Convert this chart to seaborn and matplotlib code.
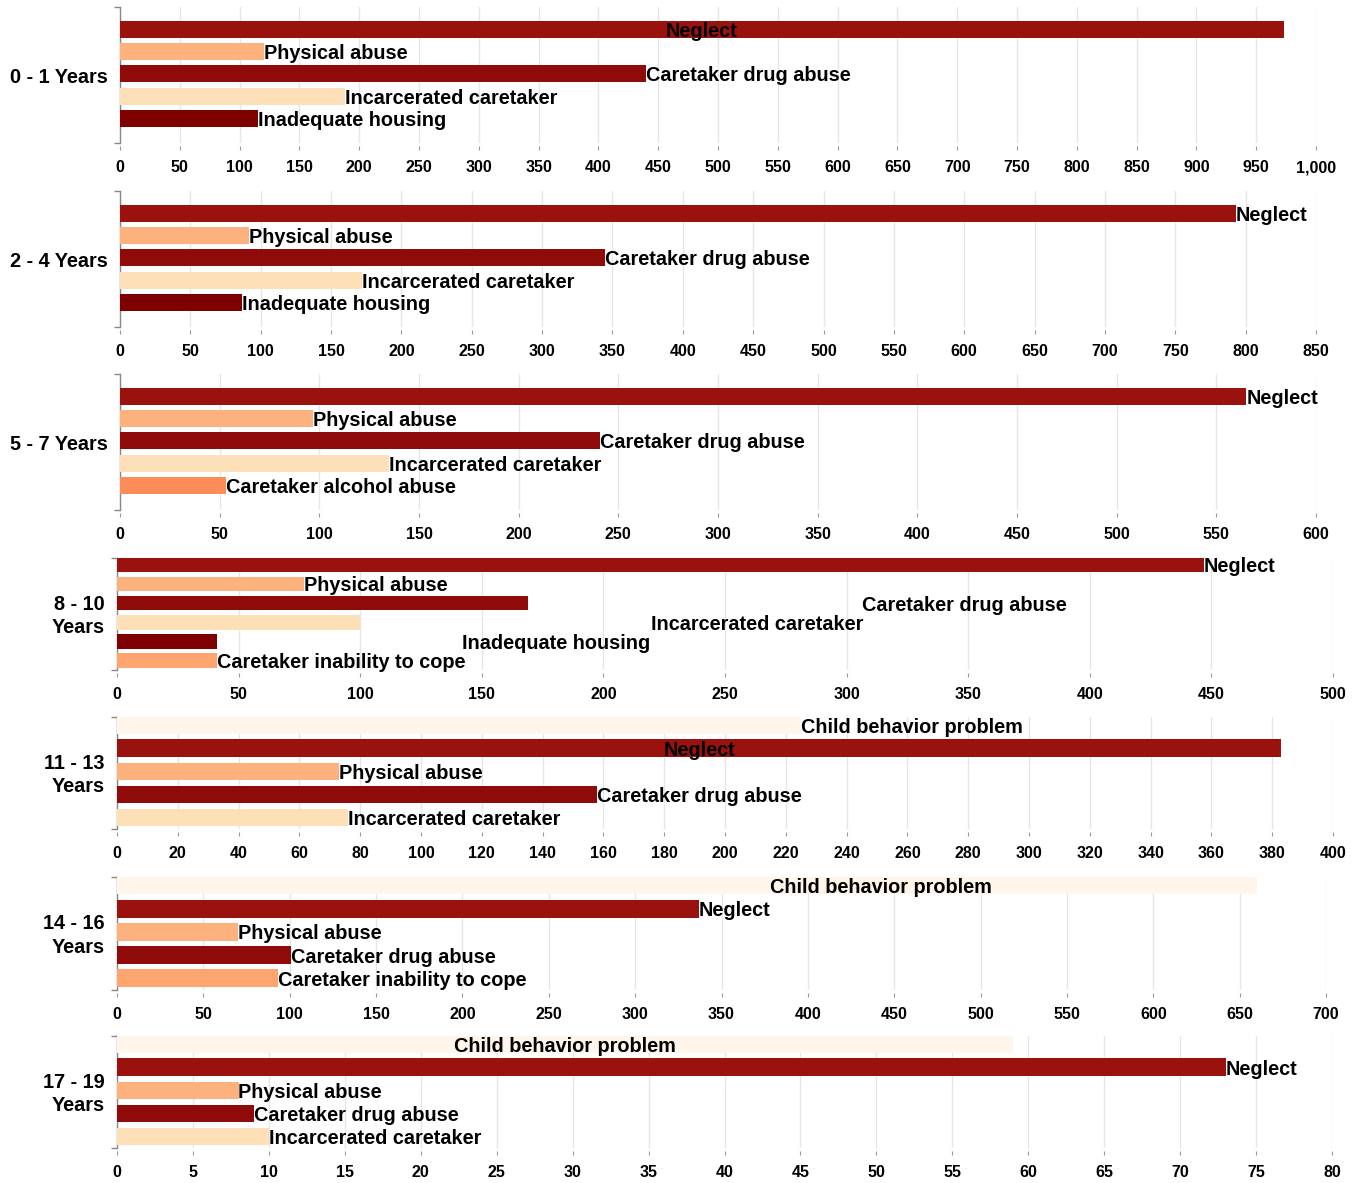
import textwrap
import pandas as pd
import matplotlib.pyplot as plt
import seaborn as sns
from matplotlib.ticker import FuncFormatter

# --- data ---
groups = ["0 - 1 Years", "2 - 4 Years", "5 - 7 Years", "8 - 10 Years",
          "11 - 13 Years", "14 - 16 Years", "17 - 19 Years"]

reasons_0_1 = ["Neglect", "Physical abuse", "Caretaker drug abuse",
               "Incarcerated caretaker", "Inadequate housing"]
counts_0_1 = [973, 120, 440, 188, 115]

reasons_2_4 = ["Neglect", "Physical abuse", "Caretaker drug abuse",
               "Incarcerated caretaker", "Inadequate housing"]
counts_2_4 = [793, 92, 345, 172, 87]

reasons_5_7 = ["Neglect", "Physical abuse", "Caretaker drug abuse",
               "Incarcerated caretaker", "Caretaker alcohol abuse"]
counts_5_7 = [565, 97, 241, 135, 53]

reasons_8_10 = ["Neglect", "Physical abuse", "Caretaker drug abuse",
                "Incarcerated caretaker", "Inadequate housing",
                "Caretaker inability to cope"]
counts_8_10 = [447, 77, 169, 100, 41, 41]

reasons_11_13 = ["Child behavior problem", "Neglect", "Physical abuse",
                 "Caretaker drug abuse", "Incarcerated caretaker"]
counts_11_13 = [225, 383, 73, 158, 76]

reasons_14_16 = ["Child behavior problem", "Neglect", "Physical abuse",
                 "Caretaker drug abuse", "Caretaker inability to cope"]
counts_14_16 = [660, 337, 70, 101, 93]

reasons_17_19 = ["Child behavior problem", "Neglect", "Physical abuse",
                 "Caretaker drug abuse", "Incarcerated caretaker"]
counts_17_19 = [59, 73, 8, 9, 10]

axis_max = [1000, 850, 600, 500, 400, 700, 80]
tick_step = [50, 50, 50, 50, 20, 50, 5]

panels = [(reasons_0_1, counts_0_1), (reasons_2_4, counts_2_4),
          (reasons_5_7, counts_5_7), (reasons_8_10, counts_8_10),
          (reasons_11_13, counts_11_13), (reasons_14_16, counts_14_16),
          (reasons_17_19, counts_17_19)]

# --- styling ---
colors = {
    "Neglect": "#99120d",
    "Physical abuse": "#fdb27e",
    "Caretaker drug abuse": "#8e0b09",
    "Incarcerated caretaker": "#fee0b8",
    "Inadequate housing": "#7f0000",
    "Caretaker alcohol abuse": "#fc8d5b",
    "Caretaker inability to cope": "#fda46f",
    "Child behavior problem": "#fff5eb",
}

# label placement quirks of the original: 'mid' = centred in bar, number = data x of label start
label_pos = {
    (0, "Neglect"): "mid",
    (3, "Caretaker drug abuse"): 306.5,
    (3, "Incarcerated caretaker"): 219.5,
    (3, "Inadequate housing"): 142,
    (4, "Neglect"): "mid",
    (5, "Child behavior problem"): 378,
    (6, "Child behavior problem"): "mid",
}

# panel boxes in pixels: left, right, top, bottom
boxes = [(120, 1316, 7, 143), (120, 1316, 191, 327), (120, 1316, 374, 510),
         (117, 1333, 558, 670), (117, 1333, 717, 829), (117, 1326, 877, 990),
         (117, 1332, 1036, 1148)]
pads = [(1.0, 1.1)] * 3 + [(0.36, 0.5)] * 4

sns.set_theme(style="white")
plt.rcParams['font.family'] = ['Liberation Sans', 'DejaVu Sans']
plt.rcParams['font.weight'] = 'bold'

W, H = 1355, 1183
fig = plt.figure(figsize=(W / 100, H / 100), dpi=100)

for i, (reasons, counts) in enumerate(panels):
    l, r, t, b = boxes[i]
    ax = fig.add_axes([l / W, 1 - b / H, (r - l) / W, (b - t) / H])
    df = pd.DataFrame({"reason": reasons, "count": counts})
    sns.barplot(data=df, x="count", y="reason", hue="reason", palette=colors,
                orient="h", width=0.77, saturation=1, linewidth=0,
                legend=False, ax=ax, zorder=3)

    n = len(reasons)
    pt, pb = pads[i]
    ax.set_xlim(0, axis_max[i])
    ax.set_ylim(n - 1 + pb, -pt)
    ax.set_xticks(range(0, axis_max[i] + 1, tick_step[i]))
    ax.xaxis.set_major_formatter(FuncFormatter(lambda v, p: f"{v:,.0f}"))
    ax.set_yticks([n - 1 + pb, -pt])
    ax.set_yticklabels([])
    ax.set_xlabel("")
    ax.set_ylabel("")

    ax.xaxis.grid(True, color="#e6e6e6", lw=1)
    ax.set_axisbelow(True)
    for s in ["top", "right"]:
        ax.spines[s].set_visible(False)
    ax.spines["bottom"].set_position(("outward", 2))
    ax.spines["bottom"].set_visible(False)
    ax.spines["left"].set_color("#888888")
    ax.spines["left"].set_linewidth(1)
    ax.spines["left"].set_zorder(2)

    ax.tick_params(axis="x", bottom=True, length=3, width=0.8, color="#999999",
                   pad=16, labelsize=11.5, labelcolor="black")
    ax.tick_params(axis="y", left=True, length=4.3, width=1, color="#888888")
    for tick in ax.xaxis.get_major_ticks():
        tick.label1.set_fontweight("bold")
        tick.label1.set_verticalalignment("baseline")

    # bar labels
    for j, (reason, count) in enumerate(zip(reasons, counts)):
        pos = label_pos.get((i, reason))
        if pos == "mid":
            x, ha = count / 2, "center"
        elif pos is None:
            x, ha = count, "left"
        else:
            x, ha = pos, "left"
        ax.text(x, j, reason, ha=ha, va="center_baseline", fontsize=14.3,
                fontweight="bold", color="black", zorder=5, clip_on=False)

    # group label on the left
    ax.annotate(textwrap.fill(groups[i], 11), xy=(0, 0.5),
                xycoords="axes fraction", xytext=(-9, -1.5),
                textcoords="offset points", ha="right", va="center",
                fontsize=14.3, fontweight="bold", color="black",
                linespacing=1.3)

fig.savefig("out.png", dpi=100)
